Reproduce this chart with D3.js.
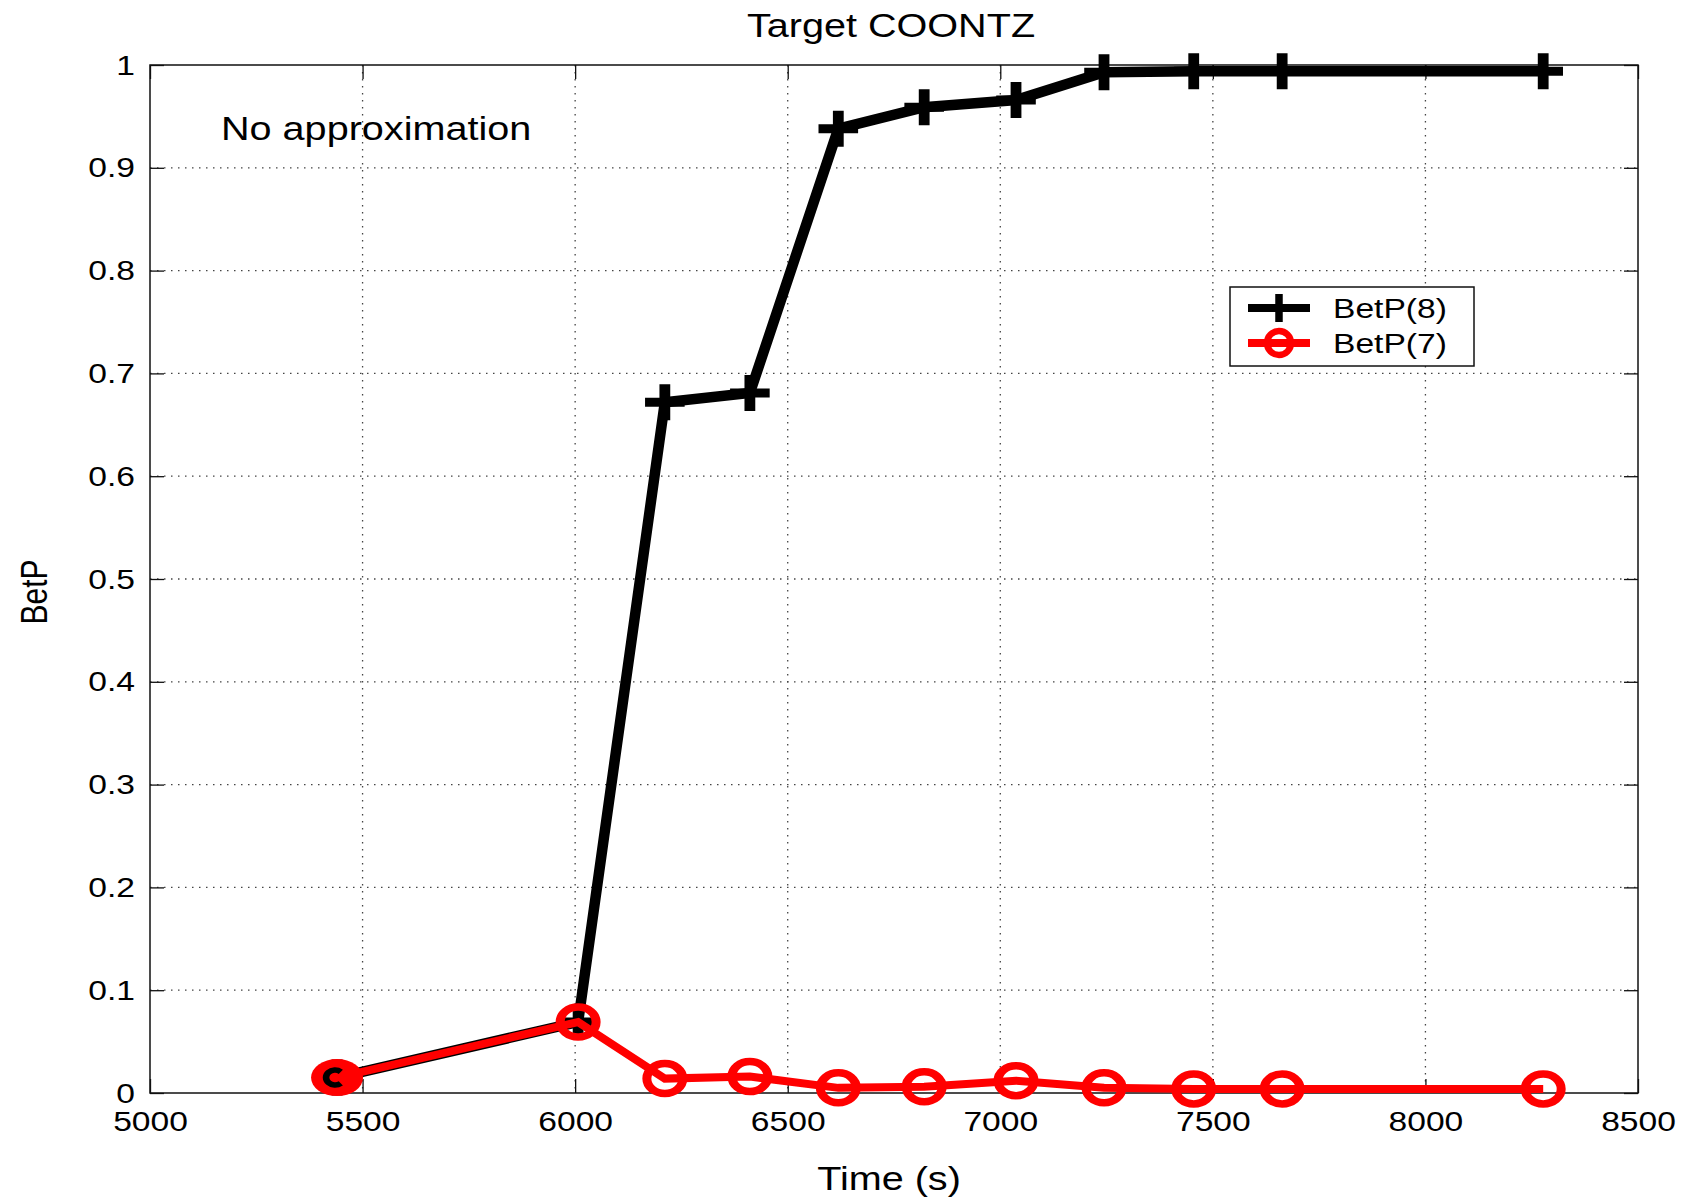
<!DOCTYPE html>
<html>
<head>
<meta charset="utf-8">
<script src="https://cdn.jsdelivr.net/npm/d3@7"></script>
<style>
  html, body { margin: 0; padding: 0; background: #fff; }
  svg { display: block; font-family: "Liberation Sans", Arial, sans-serif; }
</style>
</head>
<body>
<svg id="chart" width="1688" height="1201"></svg>
<script>
// Tracking time stamps (s) and pignistic probabilities of the two hypotheses
const times = [5440, 6007, 6211, 6411, 6619, 6821, 7037, 7244, 7455, 7663, 8277];
const betP8 = [0.015, 0.069, 0.672, 0.681, 0.938, 0.959, 0.966, 0.993, 0.994, 0.994, 0.994];
const betP7 = [0.015, 0.069, 0.014, 0.016, 0.005, 0.006, 0.012, 0.005, 0.004, 0.004, 0.004];

const xTicks = [5000, 5500, 6000, 6500, 7000, 7500, 8000, 8500];
const yTicks = [0, 0.1, 0.2, 0.3, 0.4, 0.5, 0.6, 0.7, 0.8, 0.9, 1];

const titleText = "Target COONTZ";
const xLabel = "Time (s)";
const yLabel = "BetP";
const noteText = "No approximation";
const seriesNames = ["BetP(8)", "BetP(7)"];

const plot = { left: 150, right: 1638, top: 65, bottom: 1093 };
const SX = 1.2; // horizontal glyph stretch

const svg = d3.select("#chart");

const x = d3.scaleLinear().domain([5000, 8500]).range([plot.left, plot.right]);
const y = d3.scaleLinear().domain([0, 1]).range([plot.bottom, plot.top]);

// dotted grid
const grid = svg.append("g").attr("stroke", "#444").attr("stroke-width", 1.3)
  .attr("stroke-dasharray", "1.5,5.5");
grid.selectAll("line.vx").data(xTicks.slice(1, -1)).join("line")
  .attr("x1", d => x(d)).attr("x2", d => x(d))
  .attr("y1", plot.top).attr("y2", plot.bottom);
grid.selectAll("line.hy").data(yTicks.slice(1, -1)).join("line")
  .attr("x1", plot.left).attr("x2", plot.right)
  .attr("y1", d => y(d)).attr("y2", d => y(d));

// axes with inward ticks on all four sides
const tickLen = 14;
function styleAxis(g) {
  g.select(".domain").remove();
  g.selectAll(".tick line").attr("stroke", "#111").attr("stroke-width", 1.3);
}
const gx = svg.append("g").attr("transform", `translate(0,${plot.bottom})`)
  .call(d3.axisBottom(x).tickValues(xTicks).tickSizeInner(-tickLen).tickSizeOuter(0).tickFormat(d3.format("d")));
styleAxis(gx);
gx.selectAll(".tick text")
  .attr("y", 0).attr("dy", null)
  .attr("transform", `translate(0,38) scale(${SX},1)`)
  .attr("fill", "#000").attr("font-size", 28).attr("text-anchor", "middle");

const gy = svg.append("g").attr("transform", `translate(${plot.left},0)`)
  .call(d3.axisLeft(y).tickValues(yTicks).tickSizeInner(-tickLen).tickSizeOuter(0).tickFormat(d => String(d)));
styleAxis(gy);
gy.selectAll(".tick text")
  .attr("x", 0).attr("dy", null).attr("y", 0)
  .attr("transform", `translate(-15,9) scale(${SX},1)`)
  .attr("fill", "#000").attr("font-size", 28).attr("text-anchor", "end");

const gt = svg.append("g").attr("transform", `translate(0,${plot.top})`)
  .call(d3.axisTop(x).tickValues(xTicks).tickSizeInner(-tickLen).tickSizeOuter(0).tickFormat(""));
styleAxis(gt);
const gr = svg.append("g").attr("transform", `translate(${plot.right},0)`)
  .call(d3.axisRight(y).tickValues(yTicks).tickSizeInner(-tickLen).tickSizeOuter(0).tickFormat(""));
styleAxis(gr);

// plot frame
svg.append("rect")
  .attr("x", plot.left).attr("y", plot.top)
  .attr("width", plot.right - plot.left).attr("height", plot.bottom - plot.top)
  .attr("fill", "none").attr("stroke", "#111").attr("stroke-width", 1.5);

const line = d3.line().x(d => x(d[0])).y(d => y(d[1]));
const pts8 = times.map((t, i) => [t, betP8[i]]);
const pts7 = times.map((t, i) => [t, betP7[i]]);

// BetP(8): black line with plus markers
svg.append("path").datum(pts8).attr("d", line)
  .attr("fill", "none").attr("stroke", "#000").attr("stroke-width", 10.5);
svg.append("g").selectAll("path").data(pts8).join("path")
  .attr("transform", d => `translate(${x(d[0])},${y(d[1])}) scale(${SX},1)`)
  .attr("d", "M-16.5,0H16.5M0,-18V18")
  .attr("stroke", "#000").attr("stroke-width", 9).attr("fill", "none");

// BetP(7): red line with circle markers
svg.append("path").datum(pts7).attr("d", line)
  .attr("fill", "none").attr("stroke", "#ff0000").attr("stroke-width", 8);
svg.append("g").selectAll("circle").data(pts7.slice(1)).join("circle")
  .attr("transform", d => `translate(${x(d[0])},${y(d[1])}) scale(${SX},1)`)
  .attr("r", 15)
  .attr("fill", "none")
  .attr("stroke", "#ff0000").attr("stroke-width", 7.5);

// first sample: overlapping markers form a filled disc with a dark arc
svg.append("ellipse")
  .attr("cx", x(times[0])).attr("cy", y(betP7[0]))
  .attr("rx", 26).attr("ry", 18.5).attr("fill", "#ff0000");
const arcPath = d3.path();
arcPath.arc(0, 0, 7.5, -Math.PI * 0.28, Math.PI * 0.28, true);
svg.append("path")
  .attr("transform", `translate(${x(times[0]) - 2},${y(betP7[0])}) scale(${SX},1)`)
  .attr("d", arcPath.toString())
  .attr("fill", "none").attr("stroke", "#000").attr("stroke-width", 5.5);

// texts
function stretchedText(txt, tx, ty, size, anchor, rotate) {
  return svg.append("text")
    .attr("transform", `translate(${tx},${ty}) scale(${SX},1)` + (rotate ? ` rotate(${rotate})` : ""))
    .attr("font-size", size).attr("text-anchor", anchor).attr("fill", "#000")
    .text(txt);
}
stretchedText(titleText, (plot.left + plot.right) / 2 - 3, 37, 33, "middle");
stretchedText(xLabel, (plot.left + plot.right) / 2 - 5, 1190, 33, "middle");
stretchedText(yLabel, 47, 592, 30, "middle", -90);
stretchedText(noteText, 221, 140, 33, "start");

// legend
const lg = svg.append("g");
lg.append("rect").attr("x", 1230).attr("y", 287).attr("width", 244).attr("height", 79)
  .attr("fill", "#fff").attr("stroke", "#111").attr("stroke-width", 1.5);
const legendRows = [
  { name: seriesNames[0], color: "#000", marker: "plus", ly: 308 },
  { name: seriesNames[1], color: "#ff0000", marker: "circle", ly: 343 }
];
legendRows.forEach(r => {
  lg.append("line").attr("x1", 1248).attr("x2", 1310).attr("y1", r.ly).attr("y2", r.ly)
    .attr("stroke", r.color).attr("stroke-width", 8);
  if (r.marker === "plus") {
    lg.append("path").attr("transform", `translate(1279,${r.ly})`)
      .attr("d", "M-30,0H30M0,-14V14").attr("stroke", r.color).attr("stroke-width", 7.5);
  } else {
    lg.append("circle").attr("cx", 1279).attr("cy", r.ly).attr("r", 12)
      .attr("fill", "none").attr("stroke", r.color).attr("stroke-width", 6.5);
  }
  lg.append("text").attr("transform", `translate(1333,${r.ly + 10}) scale(${SX},1)`)
    .attr("font-size", 28).attr("fill", "#000").text(r.name);
});
</script>
</body>
</html>
